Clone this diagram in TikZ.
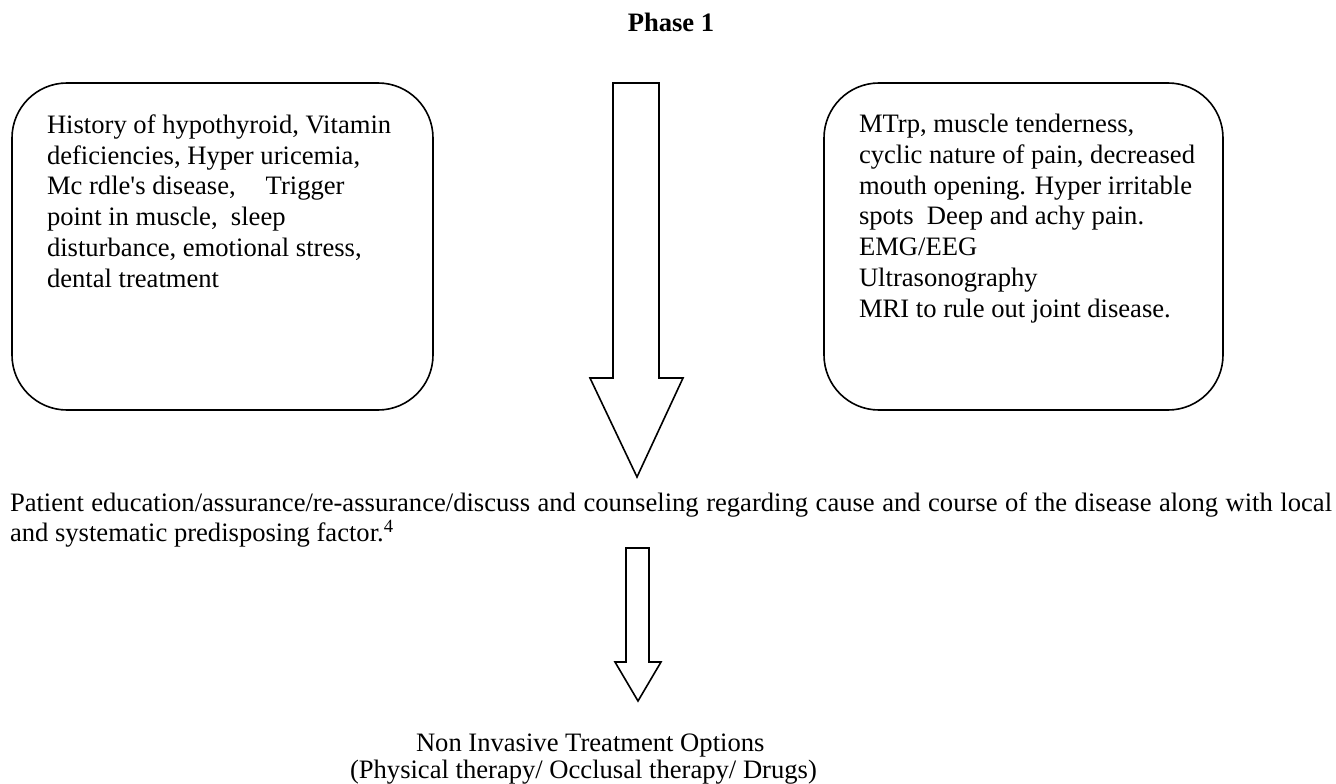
\documentclass[tikz,border=0pt]{standalone}
\usepackage{fontspec}
\setmainfont{Liberation Serif}
\begin{document}
\begin{tikzpicture}[x=1pt,y=-1pt,
  txt/.style={inner sep=0pt, outer sep=0pt, font=\fontsize{26.6pt}{30.7pt}\selectfont, align=left},
  box/.style={draw, line width=1.6pt, rounded corners=55pt},
  arr/.style={draw, line width=1.6pt, line join=miter, fill=white}]
\useasboundingbox (0,0) rectangle (1336,784);

% title
\node[txt, anchor=base, font=\fontsize{26.6pt}{30.7pt}\selectfont\bfseries] (title) at (671,32) {Phase 1};

% left box (anchor at baseline of last line)
\draw[box] (12,83) rectangle (433,410);
\node[txt, anchor=base west] (hist) at (47,287) {History of hypothyroid, Vitamin\\
deficiencies, Hyper uricemia,\\
Mc rdle\textquotesingle s disease,\hspace{30pt}Trigger\\
point in muscle,\ \ sleep\\
disturbance, emotional stress,\\
dental treatment};

% right box
\draw[box] (824,83) rectangle (1223,410);
\node[txt, anchor=base west] (sign) at (859,317) {MTrp, muscle tenderness,\\
cyclic nature of pain, decreased\\
mouth opening. Hyper irritable\\
spots\ \ Deep and achy pain.\\
EMG/EEG\\
Ultrasonography\\
MRI to rule out joint disease.};

% big arrow
\draw[arr] (613,83) -- (659,83) -- (659,378) -- (683,378) -- (637,477) -- (590,378) -- (613,378) -- cycle;

% paragraph
\node[txt, anchor=base west, text width=1322pt, align=justify] (edu) at (10,511) {Patient education/assurance/re-assurance/discuss and counseling regarding cause and course of the disease along with local\linebreak
and systematic predisposing factor.\textsuperscript{4}};

% small arrow
\draw[arr] (626,548) -- (649,548) -- (649,662) -- (661,662) -- (638,701) -- (615,662) -- (626,662) -- cycle;

% options
\node[txt, anchor=base west, font=\fontsize{26.6pt}{27pt}\selectfont] (opts) at (350,778) {\hspace*{66pt}Non Invasive Treatment Options\\
(Physical therapy/ Occlusal therapy/ Drugs)};
\end{tikzpicture}
\end{document}
